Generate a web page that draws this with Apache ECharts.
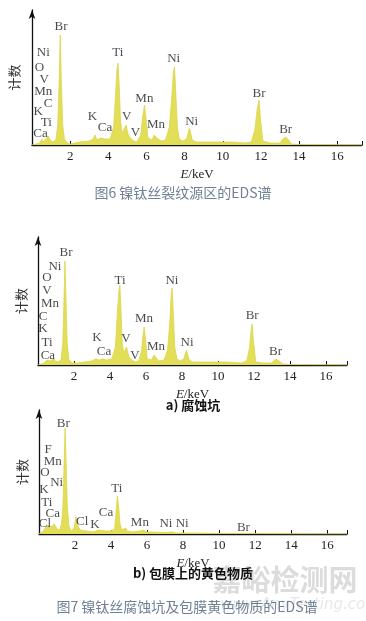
<!DOCTYPE html>
<html><head><meta charset="utf-8">
<script src="https://cdn.jsdelivr.net/npm/echarts@6/dist/echarts.min.js"></script>
<style>html,body{margin:0;padding:0;background:#fff}#c{width:366px;height:621px}</style>
</head><body><div id="c"></div>
<script>
// ---- Panel 1 (图6) spectrum ----
const energy1 = [0,0.2,0.3,0.4,0.52,0.6,0.7,0.85,0.95,1.1,1.25,1.35,1.42,1.48,1.54,1.61,1.7,1.85,2.0,2.5,3.0,3.2,3.31,3.4,3.6,3.69,3.8,4.1,4.28,4.38,4.45,4.51,4.57,4.64,4.72,4.8,4.93,5.05,5.2,5.35,5.5,5.7,5.8,5.9,5.98,6.08,6.3,6.4,6.49,6.6,6.8,7.0,7.2,7.32,7.41,7.47,7.53,7.62,7.72,7.9,8.1,8.26,8.4,8.6,9.5,10.5,11.2,11.5,11.68,11.8,11.9,11.98,12.1,12.5,13.0,13.15,13.3,13.45,13.6,14,17.3];
const counts1 = [0,1,3,2,6,3,4,9,5,3,5,20,62,110,62,20,6,2,1,3,4,6,10,5,7,9,6,6,18,50,75,82,60,25,12,14,20,10,6,4,3,10,28,40,26,7,5,10,12,6,4,5,18,45,72,78,55,18,6,4,6,17,5,3,3,3,2,3,15,35,45,26,4,2,2,6,8,5,1,0.5,0];
const labels1 = ['Br','Ni','O','V','Mn','C','K','Ti','Ca','Ti','Ni','Mn','K','Ca','V','V','Mn','Ni','Br','Br'];
const labelE1 = [1.52,0.59,0.39,0.64,0.59,0.84,0.33,0.75,0.45,4.5,7.43,5.89,3.17,3.83,4.97,5.42,6.5,8.37,11.9,13.3];
const labelC1 = [118,92,77,65,53,41,33,22,11,92,86,46,28,17,28,12,20,23,51,15];

// ---- Panel 2 (a 腐蚀坑) spectrum ----
const energy2 = [0,0.2,0.35,0.5,0.6,0.7,0.85,0.95,1.1,1.28,1.38,1.45,1.5,1.55,1.62,1.72,1.9,2.2,2.6,3.0,3.2,3.3,3.4,3.6,3.7,3.8,4.1,4.3,4.42,4.5,4.55,4.61,4.68,4.76,4.82,4.92,5.05,5.2,5.4,5.6,5.75,5.84,5.9,5.97,6.07,6.3,6.45,6.55,6.7,7.0,7.2,7.32,7.4,7.45,7.51,7.6,7.72,7.9,8.1,8.25,8.4,8.6,9.5,10.5,11.3,11.6,11.75,11.85,11.9,11.96,12.1,12.5,13.0,13.2,13.4,13.6,14,17.2];
const counts2 = [0,1,2,5,3,4,7,4,3,5,22,70,104,70,22,5,2,2,3,4,6,8,5,6,7,5,6,18,55,75,80,55,22,12,14,18,8,5,3,4,14,30,38,26,6,5,10,8,4,5,15,42,70,77,55,18,6,4,6,15,5,3,3,3,2,4,17,36,41,26,3,2,2,6,4,1,0.5,0];
const labels2 = ['Br','Ni','O','V','Mn','C','K','Ti','Ca','Ti','Ni','Mn','Br','K','Ca','V','V','Mn','Ni','Br'];
const labelE2 = [1.56,0.94,0.5,0.5,0.67,0.28,0.28,0.5,0.55,4.56,7.44,5.89,11.9,3.28,3.67,4.89,5.39,6.56,8.28,13.2];
const labelC2 = [112,98,87,74,61,48,36,22,9,84,84,46,49,27,13,26,9,18,22,13];

// ---- Panel 3 (b 包膜上的黄色物质) spectrum ----
const energy3 = [0,0.2,0.35,0.5,0.6,0.7,0.85,1.0,1.15,1.25,1.33,1.4,1.45,1.5,1.57,1.66,1.78,1.95,2.05,2.15,2.3,2.6,3.0,3.3,3.7,4.0,4.2,4.27,4.35,4.42,4.5,4.6,4.7,4.8,4.9,5.2,5.6,5.8,5.95,6.3,7.0,7.4,7.6,8.5,10,12,14,17.1];
const counts3 = [0,2,6,9,6,8,10,5,4,10,28,75,106,75,28,8,3,6,17,8,4,3,2,4,3,3,5,20,38,28,10,4,4,6,3,2,3,4,2,2,1.5,2,1,1,0.5,0.5,0.2,0];
const labels3 = ['Br','F','Mn','O','Ni','K','Ti','Ca','Cl','Cl','K','Ca','Ti','Mn','Ni','Ni','Br'];
const labelE3 = [1.35,0.5,0.76,0.33,0.98,0.28,0.43,0.76,0.33,2.4,3.1,3.72,4.32,5.6,7.05,7.95,11.35];
const labelC3 = [110,84,72,61,51,44,31,20,10,12,9,21,45,11,10,10,6];

const tickValues = [2,4,6,8,10,12,14,16];

const serif = 'Liberation Serif';
const fill = '#e3de57';

const panels = [
  {e: energy1, c: counts1, l: labels1, le: labelE1, lc: labelC1, left: 26, top: 10, width: 336, height: 135, xmax: 17.3, ymax: 135, nameGap: 11},
  {e: energy2, c: counts2, l: labels2, le: labelE2, lc: labelC2, left: 38, top: 237, width: 309, height: 128, xmax: 17.17, ymax: 128, nameGap: 10},
  {e: energy3, c: counts3, l: labels3, le: labelE3, lc: labelC3, left: 39, top: 410, width: 308, height: 124, xmax: 17.1, ymax: 124, nameGap: 10}
];

const grid = [], xAxis = [], yAxis = [], series = [];
panels.forEach((p, i) => {
  grid.push({left: p.left, top: p.top, width: p.width, height: p.height});
  xAxis.push({
    type: 'value', gridIndex: i, min: 0, max: p.xmax, interval: 2,
    axisLine: {lineStyle: {color: '#111', width: 1.3}},
    axisTick: {inside: true, length: 4, lineStyle: {color: '#111', width: 1}},
    splitLine: {show: false},
    axisLabel: {
      color: '#222', fontFamily: serif, fontSize: 13, margin: 5,
      formatter: v => tickValues.includes(v) ? String(v) : ''
    },
    name: '{i|E}{n|/keV}', nameLocation: 'middle', nameGap: 23,
    nameTextStyle: {rich: {
      i: {fontFamily: serif, fontStyle: 'italic', fontSize: 13, color: '#222'},
      n: {fontFamily: serif, fontSize: 13, color: '#222'}
    }}
  });
  yAxis.push({
    type: 'value', gridIndex: i, min: 0, max: p.ymax,
    axisLine: {show: true, symbol: ['none', 'arrow'], symbolSize: [5, 9], lineStyle: {color: '#111', width: 1.3}},
    axisTick: {show: false}, axisLabel: {show: false}, splitLine: {show: false},
    name: '计数', nameLocation: 'middle', nameRotate: 90, nameGap: p.nameGap,
    nameTextStyle: {fontFamily: 'Noto Sans CJK SC', fontSize: 13, color: '#333'}
  });
  series.push({
    type: 'line', xAxisIndex: i, yAxisIndex: i, symbol: 'none', smooth: false,
    data: p.e.map((x, k) => [x, p.c[k]]),
    lineStyle: {color: '#dcd64a', width: 0.8},
    areaStyle: {color: fill, opacity: 1},
    z: 2
  });
  series.push({
    type: 'scatter', xAxisIndex: i, yAxisIndex: i, symbolSize: 0,
    data: p.l.map((name, k) => ({name: name, value: [p.le[k], p.lc[k]]})),
    label: {show: true, position: 'inside', formatter: '{b}', fontFamily: serif, fontSize: 13, color: '#1a1a1a'},
    z: 5, silent: true
  });
});

const chart = echarts.init(document.getElementById('c'), null, {renderer: 'canvas'});
chart.setOption({
  animation: false,
  backgroundColor: '#fff',
  grid, xAxis, yAxis, series,
  graphic: [
    {type: 'text', x: 285, y: 580, z: 1, style: {text: '嘉峪检测网', fill: '#dcdcdc', font: 'bold 29px "Noto Sans CJK SC"', align: 'center', verticalAlign: 'middle'}},
    {type: 'text', x: 300, y: 605, z: 1, style: {text: 'www.AnyTesting.com', fill: '#e8e8e8', font: 'italic 15px "DejaVu Sans"', align: 'center', verticalAlign: 'middle'}},
    {type: 'text', left: 'center', top: 186, z: 20, style: {text: '图6 镍钛丝裂纹源区的EDS谱', fill: '#6f8194', font: '14px "Noto Sans CJK SC"'}},
    {type: 'text', x: 193, y: 405, z: 20, style: {text: 'a) 腐蚀坑', fill: '#111', font: 'bold 13px "Noto Sans CJK SC"', align: 'center', verticalAlign: 'middle'}},
    {type: 'text', x: 193, y: 573, z: 20, style: {text: 'b) 包膜上的黄色物质', fill: '#111', font: 'bold 13px "Noto Sans CJK SC"', align: 'center', verticalAlign: 'middle'}},
    {type: 'text', x: 187, y: 607, z: 20, style: {text: '图7 镍钛丝腐蚀坑及包膜黄色物质的EDS谱', fill: '#6f8194', font: '14px "Noto Sans CJK SC"', align: 'center', verticalAlign: 'middle'}}
  ]
});
</script></body></html>
